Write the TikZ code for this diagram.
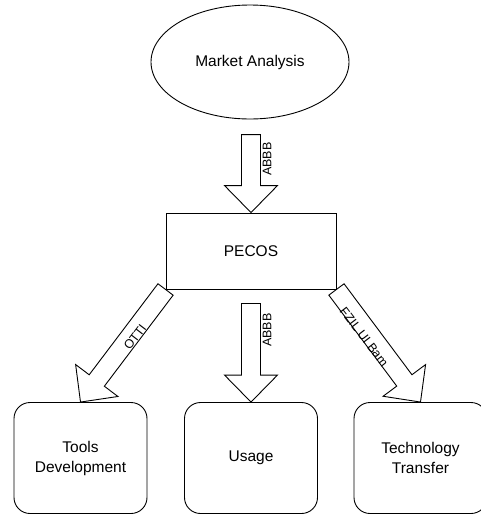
\documentclass[tikz,border=0pt]{standalone}
\usepackage{fontspec}
\setmainfont{Liberation Sans}
\usetikzlibrary{calc,shapes.geometric}
\tikzset{
  outline/.style={draw=black, line width=0.9pt},
  body text/.style={font=\fontsize{15.5}{20}\selectfont, align=center, text=black},
  flowbox/.style={outline, rounded corners=16pt, minimum width=133pt,
    minimum height=111pt, inner sep=0pt, body text},
  arrowtag/.style={font=\fontsize{12.5}{12.5}\selectfont, inner sep=0pt, text=black},
}
% hollow block arrow from #1 to #2: shaft half width 9.5, head half width 26.5, head length 27
\newcommand\fatarrow[2]{%
  \coordinate (hb) at ($(#2)!27pt!(#1)$);
  \draw[outline, line join=miter, fill=white]
    ($(#1)!9.5pt!90:(#2)$) -- ($(hb)!9.5pt!-90:(#1)$) --
    ($(hb)!26.5pt!-90:(#1)$) -- (#2) -- ($(hb)!26.5pt!90:(#1)$) --
    ($(hb)!9.5pt!90:(#1)$) -- ($(#1)!9.5pt!-90:(#2)$) -- cycle;
}
\begin{document}
\begin{tikzpicture}[x=1pt,y=-1pt]
  \useasboundingbox (0,0) rectangle (481,515);
  \clip (0,0) rectangle (481,515);

  \node[ellipse, outline, minimum width=198pt, minimum height=114pt,
        inner sep=0pt, body text] (market) at (250,62) {Market Analysis};
  \node[outline, minimum width=170pt, minimum height=76pt, inner sep=0pt,
        body text] (pecos) at (251,251) {PECOS};
  \node[flowbox] (tools) at (80.5,458) {Tools\\Development};
  \node[flowbox] (usage) at (251,458) {Usage};
  \node[flowbox] (transfer) at (420.5,458) {Technology\\Transfer};

  \coordinate (topstart) at ($(pecos.north)+(0,-78)$);
  \coordinate (midstart) at ($(pecos.south)+(0,14)$);

  \fatarrow{topstart}{pecos.north}
  \fatarrow{midstart}{usage.north}
  \fatarrow{pecos.south west}{tools.north}
  \fatarrow{pecos.south east}{transfer.north}

  \node[arrowtag, rotate=90] (tagtop) at (267,159) {ABBB};
  \node[arrowtag, rotate=90] (tagmid) at (267,330) {ABBB};
  \node[arrowtag, rotate=52.7] (tagleft) at (135,337) {OTTI};
  \node[arrowtag, rotate=-52.7] (tagright) at (364,337) {FZIL UI Bam};
\end{tikzpicture}
\end{document}
